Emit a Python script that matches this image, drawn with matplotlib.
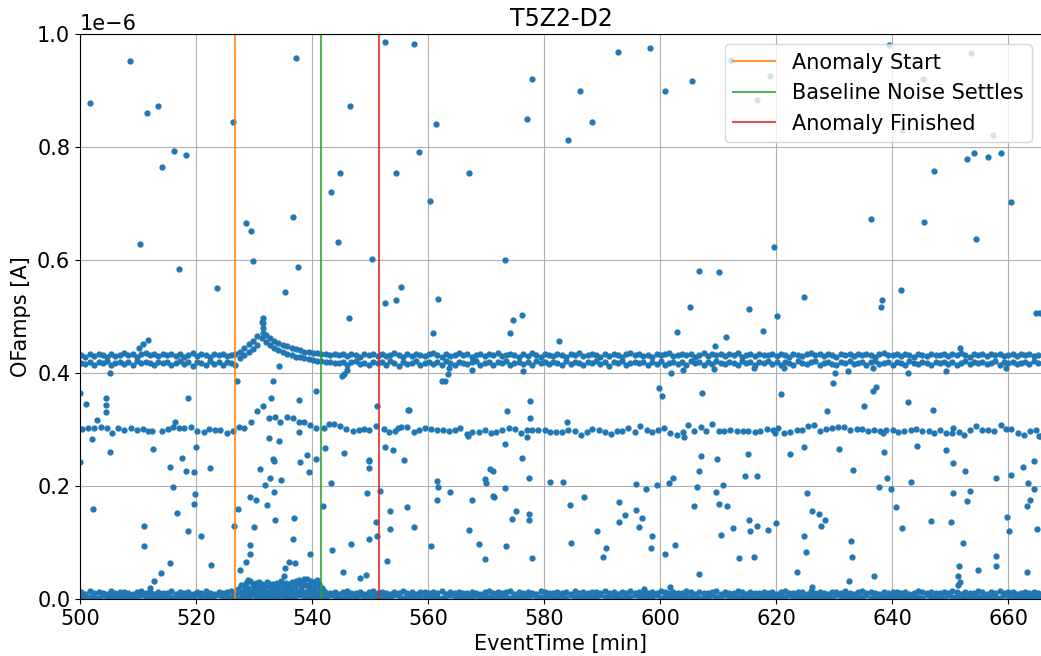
import numpy as np
import matplotlib
matplotlib.use("Agg")
import matplotlib.pyplot as plt

plt.rcParams['font.size'] = 15

# event times [min] for the two dense pulse bands (~0.42 uA and ~0 uA)
band_t = [500.2, 500.9, 501.7, 502.4, 503.2, 503.9, 504.6, 505.4, 506.1, 506.9,
          507.6, 508.3, 509.1, 509.8, 510.6, 511.3, 512.0, 512.8, 513.5, 514.3,
          515.0, 515.7, 516.5, 517.2, 518.0, 518.7, 519.4, 520.2, 520.9, 521.7,
          522.4, 523.1, 523.9, 524.6, 525.4, 526.1, 526.8, 527.6, 528.3, 529.1,
          529.8, 530.5, 531.3, 532.0, 532.8, 533.5, 534.2, 535.0, 535.7, 536.5,
          537.2, 537.9, 538.7, 539.4, 540.2, 540.9, 541.6, 542.4, 543.1, 543.9,
          544.6, 545.3, 546.1, 546.8, 547.6, 548.3, 549.0, 549.8, 550.5, 551.3,
          552.0, 552.7, 553.5, 554.2, 555.0, 555.7, 556.4, 557.2, 557.9, 558.7,
          559.4, 560.1, 560.9, 561.6, 562.4, 563.1, 563.8, 564.6, 565.3, 566.1,
          566.8, 567.5, 568.3, 569.0, 569.8, 570.5, 571.2, 572.0, 572.7, 573.5,
          574.2, 574.9, 575.7, 576.4, 577.2, 577.9, 578.6, 579.4, 580.1, 580.9,
          581.6, 582.3, 583.1, 583.8, 584.6, 585.3, 586.0, 586.8, 587.5, 588.3,
          589.0, 589.7, 590.5, 591.2, 592.0, 592.7, 593.4, 594.2, 594.9, 595.7,
          596.4, 597.1, 597.9, 598.6, 599.4, 600.1, 600.8, 601.6, 602.3, 603.1,
          603.8, 604.5, 605.3, 606.0, 606.8, 607.5, 608.2, 609.0, 609.7, 610.5,
          611.2, 611.9, 612.7, 613.4, 614.2, 614.9, 615.6, 616.4, 617.1, 617.9,
          618.6, 619.3, 620.1, 620.8, 621.6, 622.3, 623.0, 623.8, 624.5, 625.3,
          626.0, 626.7, 627.5, 628.2, 629.0, 629.7, 630.4, 631.2, 631.9, 632.7,
          633.4, 634.1, 634.9, 635.6, 636.4, 637.1, 637.8, 638.6, 639.3, 640.1,
          640.8, 641.5, 642.3, 643.0, 643.8, 644.5, 645.2, 646.0, 646.7, 647.5,
          648.2, 648.9, 649.7, 650.4, 651.2, 651.9, 652.6, 653.4, 654.1, 654.9,
          655.6, 656.3, 657.1, 657.8, 658.6, 659.3, 660.0, 660.8, 661.5, 662.3,
          663.0, 663.7, 664.5, 665.2]

# amplitudes in nA, upper / lower dot of each column of the 0.42 band
top_hi = [432, 429, 434, 430, 433, 431, 428, 434, 430, 432,
          435, 431, 433, 429, 434, 436, 432, 433, 430, 434,
          431, 434, 430, 433, 429, 432, 435, 430, 433, 431,
          429, 434, 431, 433, 430, 432, 434, 438, 444, 451,
          456, 466, 490, 468, 462, 457, 453, 450, 447, 444,
          442, 440, 438, 437, 436, 435, 434, 433, 432, 434,
          431, 433, 430, 434, 432, 429, 433, 431, 434, 430,
          433, 430, 432, 435, 431, 429, 433, 430, 434, 432,
          430, 433, 436, 431, 429, 434, 430, 432, 435, 431,
          433, 429, 432, 434, 430, 433, 431, 436, 430, 432,
          434, 431, 429, 433, 430, 435, 432, 429, 433, 431,
          430, 434, 432, 429, 433, 431, 435, 430, 432, 434,
          431, 429, 433, 430, 434, 432, 429, 433, 436, 431,
          433, 430, 432, 429, 434, 431, 433, 435, 430, 432,
          434, 431, 433, 429, 432, 436, 430, 433, 431, 434,
          430, 433, 431, 435, 429, 432, 434, 430, 433, 431,
          432, 434, 430, 433, 431, 429, 434, 432, 430, 433,
          436, 431, 433, 430, 434, 432, 429, 433, 431, 434,
          430, 433, 431, 434, 432, 429, 433, 435, 431, 432,
          434, 430, 433, 431, 429, 434, 432, 430, 433, 431,
          432, 434, 430, 433, 431, 435, 432, 429, 434, 431,
          433, 430, 434, 431, 433, 430, 432, 434, 430, 433,
          431, 434, 430, 432]
top_lo = [418, 416, 420, 414, 419, 417, 421, 415, 418, 420,
          416, 419, 414, 421, 417, 420, 418, 415, 419, 417,
          420, 414, 418, 421, 416, 419, 413, 420, 417, 415,
          421, 416, 419, 414, 420, 417, 415, 426, 431, 437,
          442, 450, 462, 455, 449, 445, 441, 437, 434, 431,
          429, 428, 426, 424, 423, 422, 421, 419, 420, 418,
          417, 420, 415, 419, 421, 416, 418, 414, 420, 417,
          419, 415, 421, 417, 413, 420, 416, 418, 421, 415,
          418, 420, 416, 419, 414, 421, 417, 415, 420, 418,
          416, 419, 421, 415, 418, 420, 414, 419, 417, 421,
          415, 418, 420, 416, 419, 414, 421, 417, 420, 416,
          419, 417, 414, 421, 416, 420, 418, 415, 419, 417,
          421, 416, 419, 413, 420, 417, 421, 415, 418, 420,
          417, 420, 415, 419, 416, 421, 414, 418, 420, 416,
          419, 415, 421, 417, 420, 414, 419, 416, 421, 418,
          416, 420, 418, 414, 421, 417, 419, 415, 420, 417,
          421, 416, 419, 414, 420, 417, 415, 421, 418, 416,
          419, 421, 415, 418, 420, 416, 414, 419, 417, 421,
          416, 418, 420, 414, 419, 421, 416, 418, 420, 415,
          419, 417, 414, 421, 418, 416, 420, 417, 415, 419,
          417, 420, 416, 419, 414, 418, 421, 416, 419, 417,
          420, 416, 418, 421, 415, 419, 417, 420, 416, 418,
          419, 416, 421, 417]

# amplitudes in nA of the baseline band near zero
bot_hi = [12, 9, 14, 10, 13, 11, 8, 14, 10, 12,
          13, 11, 9, 12, 14, 10, 13, 9, 12, 11,
          10, 14, 9, 12, 11, 13, 8, 12, 10, 14,
          11, 9, 13, 10, 12, 14, 9, 13, 11, 12,
          14, 10, 12, 13, 9, 11, 14, 10, 12, 13,
          11, 13, 10, 14, 12, 9, 13, 11, 10, 12,
          9, 12, 14, 10, 11, 13, 9, 12, 14, 10,
          13, 11, 9, 12, 10, 14, 11, 13, 9, 12,
          12, 10, 13, 11, 14, 9, 12, 10, 13, 11,
          10, 13, 11, 9, 12, 14, 10, 12, 11, 13,
          14, 9, 12, 10, 13, 11, 9, 14, 12, 10,
          11, 13, 10, 12, 9, 14, 11, 13, 10, 12,
          13, 10, 14, 11, 12, 9, 13, 11, 14, 10,
          12, 9, 11, 13, 10, 14, 12, 10, 13, 11,
          10, 14, 12, 9, 13, 11, 10, 12, 14, 9,
          13, 11, 10, 14, 12, 9, 13, 11, 10, 12,
          11, 13, 9, 12, 14, 10, 11, 13, 12, 9,
          14, 10, 12, 11, 9, 13, 12, 10, 14, 11,
          9, 12, 14, 10, 13, 11, 9, 12, 10, 13,
          12, 10, 13, 9, 11, 14, 12, 10, 13, 11,
          10, 13, 11, 14, 12, 9, 13, 11, 10, 14,
          13, 9, 12, 10, 14, 11, 12, 13, 9, 11,
          12, 10, 13, 11]
bot_lo = [4, 6, 3, 5, 2, 7, 4, 5, 3, 6,
          5, 3, 6, 4, 7, 2, 5, 4, 6, 3,
          6, 4, 2, 5, 3, 6, 4, 7, 3, 5,
          3, 5, 7, 4, 6, 3, 5, 2, 6, 4,
          7, 3, 5, 6, 4, 2, 6, 5, 3, 4,
          5, 7, 4, 3, 6, 5, 2, 4, 7, 3,
          4, 2, 6, 5, 3, 7, 4, 6, 5, 3,
          6, 4, 3, 7, 5, 2, 6, 4, 3, 5,
          3, 6, 5, 4, 2, 6, 7, 3, 5, 4,
          5, 4, 7, 3, 6, 4, 2, 5, 6, 3,
          2, 5, 4, 6, 3, 7, 5, 4, 3, 6,
          6, 3, 5, 2, 7, 4, 3, 6, 5, 4,
          4, 7, 3, 5, 4, 6, 2, 5, 3, 7,
          5, 4, 6, 3, 7, 2, 5, 4, 6, 3,
          3, 6, 4, 5, 2, 6, 4, 7, 3, 5,
          7, 3, 5, 4, 6, 3, 5, 2, 6, 4,
          4, 5, 2, 6, 3, 7, 4, 5, 3, 6,
          5, 3, 6, 4, 5, 2, 7, 3, 6, 4,
          6, 4, 3, 7, 2, 5, 6, 4, 3, 5,
          3, 6, 5, 4, 6, 3, 2, 7, 4, 5,
          5, 2, 7, 3, 5, 6, 4, 3, 6, 4,
          4, 6, 3, 5, 2, 7, 5, 4, 6, 3,
          6, 3, 5, 4]

# the ~0.30 uA band: (time [min], amplitude [nA])
mid_band = [(500.3, 301), (501.4, 303), (502.4, 303), (503.0, 316), (503.6, 304),
            (504.6, 303), (505.6, 293), (506.6, 302), (507.6, 300), (508.8, 303),
            (509.8, 299), (510.8, 301), (511.8, 297), (512.4, 297), (514.1, 297),
            (515.1, 301), (516.0, 304), (516.4, 314), (517.0, 302), (518.0, 302),
            (519.1, 304), (520.1, 298), (521.3, 296), (522.2, 301), (523.2, 300),
            (524.1, 300), (525.3, 293), (526.3, 298), (527.4, 304), (528.3, 302),
            (529.4, 313), (532.5, 320), (533.6, 323), (534.5, 314), (535.7, 323),
            (536.7, 320), (537.7, 314), (538.7, 314), (539.7, 308), (540.7, 302),
            (542.0, 302), (542.9, 310), (543.8, 310), (544.9, 307), (545.9, 301),
            (547.1, 297), (548.1, 300), (549.0, 301), (549.9, 300), (551.1, 306),
            (552.4, 301), (553.3, 295), (554.3, 298), (554.9, 302), (555.4, 305),
            (556.3, 304), (557.5, 296), (558.5, 299), (559.5, 302), (560.5, 301),
            (561.5, 299), (562.6, 299), (563.7, 297), (564.7, 299), (565.6, 303),
            (566.7, 292), (566.9, 289), (567.6, 295), (568.8, 295), (569.8, 300),
            (570.8, 293), (571.8, 295), (572.8, 299), (574.0, 303), (575.0, 301),
            (576.0, 293), (577.0, 287), (577.0, 299), (578.0, 299), (579.0, 300),
            (580.2, 299), (581.1, 295), (582.1, 295), (583.1, 295), (583.9, 313),
            (584.1, 299), (585.3, 297), (586.3, 291), (587.4, 295), (588.3, 301),
            (589.4, 300), (590.5, 295), (591.5, 292), (592.5, 297), (593.5, 297),
            (594.5, 303), (595.7, 295), (596.6, 307), (597.7, 299), (598.7, 295),
            (599.7, 299), (600.7, 303), (601.8, 293), (602.9, 291), (603.9, 295),
            (604.1, 287), (604.9, 308), (605.9, 297), (607.1, 305), (608.0, 297),
            (609.0, 309), (610.1, 297), (611.0, 297), (612.1, 299), (613.2, 297),
            (614.3, 297), (615.2, 297), (616.3, 295), (617.2, 297), (618.4, 301),
            (619.4, 299), (619.8, 294), (620.4, 303), (621.4, 293), (622.4, 295),
            (623.6, 299), (624.5, 299), (625.6, 306), (626.6, 308), (627.6, 297),
            (628.7, 301), (629.7, 303), (630.7, 305), (631.8, 305), (632.8, 299),
            (633.9, 301), (634.9, 301), (635.9, 297), (636.9, 299), (637.9, 297),
            (638.4, 294), (638.9, 299), (640.2, 299), (641.1, 295), (642.1, 297),
            (643.2, 299), (644.1, 301), (645.2, 297), (646.3, 297), (647.3, 293),
            (648.3, 299), (649.3, 293), (650.6, 303), (650.4, 293), (651.5, 295),
            (652.4, 291), (653.5, 299), (654.4, 307), (655.6, 299), (656.6, 299),
            (657.6, 297), (658.8, 308), (659.6, 301), (660.6, 301), (661.8, 293),
            (662.8, 291), (663.8, 297), (664.8, 299), (665.6, 289)]

# pile-up above the baseline during the anomaly: (time [min], amplitude [nA])
burst = [(527.3, 18), (527.8, 25), (528.2, 14), (528.6, 28), (529.0, 20),
         (529.3, 31), (529.7, 16), (530.0, 24), (530.4, 29), (530.7, 12),
         (531.0, 21), (531.4, 27), (531.8, 17), (532.1, 23), (532.5, 13),
         (532.9, 19), (533.2, 26), (533.6, 15), (534.0, 20), (534.4, 11),
         (534.8, 24), (535.1, 17), (535.5, 28), (535.9, 21), (536.2, 14),
         (536.6, 30), (537.0, 22), (537.3, 26), (537.7, 33), (538.1, 18),
         (538.4, 29), (538.8, 24), (539.2, 35), (539.5, 20), (539.9, 31),
         (540.3, 16), (540.6, 27), (541.0, 22), (541.4, 14), (541.8, 19),
         (528.0, 9), (529.5, 8), (531.2, 10), (533.0, 9), (535.3, 8),
         (536.8, 10), (538.5, 9), (540.0, 10), (532.3, 30), (537.5, 12),
         (539.0, 13), (527.5, 12), (528.4, 21), (528.9, 33), (529.1, 11),
         (529.9, 27), (530.2, 19), (530.9, 30), (531.6, 24), (532.0, 11),
         (532.7, 27), (533.4, 21), (533.9, 29), (534.2, 17), (534.6, 31),
         (535.7, 13), (536.0, 25), (536.4, 19), (537.2, 32), (537.9, 27),
         (538.2, 13), (538.6, 36), (539.4, 25), (539.7, 15), (540.1, 30),
         (540.5, 21), (540.9, 34), (541.2, 26), (541.6, 12), (542.0, 15),
         (542.3, 9)]

# remaining scattered events: (time [min], amplitude [nA])
outliers = [(501.8, 878), (508.6, 952), (511.6, 860), (513.4, 873), (514.2, 764),
            (516.2, 793), (518.2, 786), (510.4, 629), (517.0, 584), (523.6, 551),
            (526.3, 845), (528.6, 666), (529.5, 652), (529.9, 599), (531.6, 497),
            (531.6, 489), (531.6, 480), (531.6, 471), (535.3, 543), (536.7, 676),
            (537.3, 958), (537.5, 588), (543.3, 721), (544.5, 631), (544.9, 754),
            (546.5, 873), (546.3, 498), (550.4, 602), (552.6, 985), (552.6, 524),
            (554.5, 754), (554.5, 529), (555.3, 553), (557.5, 983), (558.4, 792),
            (560.4, 704), (561.4, 841), (561.8, 531), (567.0, 754), (573.2, 600),
            (574.7, 494), (578.0, 921), (577.0, 850), (584.1, 813), (586.2, 899),
            (588.3, 844), (592.7, 969), (598.3, 975), (600.9, 899), (605.5, 917),
            (612.3, 954), (619.0, 926), (616.8, 883), (639.5, 980), (645.3, 921),
            (641.7, 830), (653.7, 967), (657.4, 821), (652.9, 778), (654.2, 790),
            (656.5, 782), (658.8, 790), (647.3, 758), (660.6, 703), (636.3, 672),
            (645.5, 668), (654.5, 637), (619.6, 623), (606.8, 580), (610.2, 578),
            (605.2, 516), (615.4, 514), (620.2, 500), (624.8, 535), (638.3, 529),
            (638.1, 516), (641.5, 547), (576.2, 502), (664.8, 506), (665.5, 506),
            (510.2, 445), (510.9, 452), (511.7, 458), (505.2, 400), (527.0, 386),
            (534.3, 412), (545.1, 395), (545.5, 399), (546.0, 405), (562.4, 386),
            (563.0, 386), (563.4, 398), (563.7, 408), (500.0, 364), (501.0, 346),
            (504.4, 355), (504.4, 343), (504.4, 331), (518.6, 355), (560.8, 471),
            (574.1, 470), (582.5, 457), (603.0, 473), (609.4, 448), (611.4, 463),
            (617.8, 474), (651.7, 445), (576.3, 404), (567.6, 406), (601.9, 400),
            (604.0, 406), (609.3, 407), (616.2, 408), (621.4, 409), (630.2, 400),
            (632.4, 404), (636.8, 409), (642.7, 400), (649.3, 404), (659.7, 409),
            (599.9, 373), (600.3, 359), (607.2, 365), (556.8, 334), (577.6, 350),
            (577.6, 320), (573.6, 332), (629.8, 383), (637.3, 375), (636.8, 369),
            (620.8, 363), (635.2, 342), (642.7, 349), (628.8, 332), (647.1, 335),
            (530.6, 333), (531.6, 342), (532.9, 355), (533.3, 385), (537.7, 353),
            (540.7, 369), (551.2, 341), (556.6, 335), (502.1, 283), (505.2, 261),
            (512.6, 265), (520.0, 269), (517.6, 250), (532.5, 285), (534.3, 280),
            (537.7, 296), (542.3, 267), (545.5, 259), (552.6, 269), (554.0, 264),
            (533.3, 247), (539.1, 255), (540.7, 247), (549.9, 246), (573.2, 275),
            (576.2, 250), (607.1, 253), (609.8, 247), (615.2, 257), (622.4, 257),
            (624.9, 269), (630.9, 265), (638.7, 261), (644.3, 271), (649.3, 263),
            (665.3, 288), (500.0, 242), (515.5, 234), (518.2, 226), (519.6, 224),
            (522.4, 232), (531.1, 230), (533.5, 245), (537.9, 242), (539.5, 224),
            (549.8, 232), (549.8, 245), (555.8, 246), (502.2, 160), (511.0, 130),
            (511.0, 93), (516.0, 199), (519.8, 185), (519.6, 169), (516.8, 153),
            (518.7, 120), (520.8, 111), (522.6, 60), (515.5, 63), (514.0, 46),
            (512.8, 32), (512.0, 20), (526.6, 130), (527.2, 160), (527.6, 52),
            (528.7, 66), (529.3, 80), (529.3, 95), (529.3, 181), (530.3, 176),
            (530.0, 128), (531.9, 202), (532.8, 215), (533.5, 189), (532.2, 166),
            (533.7, 139), (534.7, 211), (535.3, 55), (535.1, 41), (536.1, 66),
            (537.1, 63), (536.9, 144), (536.7, 107), (539.7, 80), (541.9, 165),
            (543.3, 205), (543.5, 87), (545.3, 48), (546.7, 97), (548.3, 38),
            (549.3, 42), (549.5, 187), (549.8, 106), (551.0, 136), (551.2, 112),
            (551.7, 191), (553.4, 156), (553.4, 124), (553.0, 68), (556.4, 162),
            (557.6, 128), (560.6, 93), (561.6, 208), (561.8, 199), (561.6, 175),
            (563.8, 189), (567.0, 122), (567.6, 176), (568.8, 97), (569.8, 71),
            (569.8, 212), (570.0, 206), (570.7, 230), (571.2, 226), (571.2, 183),
            (571.4, 181), (573.2, 197), (573.4, 93), (574.4, 142), (575.2, 156),
            (577.4, 215), (577.4, 150), (577.4, 140), (578.0, 73), (581.0, 207),
            (583.2, 207), (584.4, 166), (584.7, 99), (586.9, 181), (589.1, 120),
            (590.1, 75), (590.7, 91), (592.9, 172), (592.9, 136), (593.9, 148),
            (595.9, 204), (595.9, 158), (596.3, 127), (596.9, 144), (597.5, 195),
            (598.7, 112), (598.5, 91), (599.5, 202), (597.3, 17), (600.9, 79),
            (601.5, 205), (602.3, 214), (602.6, 95), (601.7, 22), (605.9, 165),
            (606.3, 199), (606.8, 226), (606.8, 44), (609.7, 189), (610.2, 169),
            (610.8, 201), (610.5, 113), (611.6, 164), (614.7, 218), (616.8, 218),
            (612.5, 126), (613.6, 73), (615.4, 140), (615.6, 120), (616.7, 129),
            (616.2, 74), (618.6, 122), (620.0, 134), (623.6, 48), (624.9, 112),
            (625.2, 83), (625.4, 187), (626.2, 156), (626.2, 22), (627.4, 150),
            (627.8, 130), (628.4, 140), (633.3, 228), (632.9, 103), (633.1, 74),
            (632.5, 32), (636.9, 40), (637.7, 199), (639.1, 214), (639.9, 195),
            (640.7, 163), (641.7, 126), (643.3, 207), (646.7, 138), (650.6, 240),
            (650.5, 187), (650.1, 136), (652.5, 226), (653.5, 191), (653.0, 173),
            (652.2, 99), (651.5, 58), (651.4, 40), (651.7, 30), (651.3, 25),
            (654.9, 52), (657.9, 215), (657.9, 76), (657.9, 58), (659.8, 145),
            (660.1, 120), (660.6, 220), (662.6, 234), (663.4, 205), (664.4, 244),
            (664.4, 195), (663.8, 175), (663.2, 165), (665.0, 124), (663.3, 48)]

# markers for the anomaly
line_labels = ['Anomaly Start', 'Baseline Noise Settles', 'Anomaly Finished']
line_times = [526.7, 541.6, 551.6]
line_colors = ['tab:orange', 'tab:green', 'tab:red']

# collect all events
mid_t, mid_v = np.array(mid_band).T
burst_t, burst_v = np.array(burst).T
out_t, out_v = np.array(outliers).T
t = np.concatenate([band_t, band_t, band_t, band_t, mid_t, burst_t, out_t])
amp = np.concatenate([top_hi, top_lo, bot_hi, bot_lo, mid_v, burst_v, out_v]) * 1e-9

fig = plt.figure(figsize=(10.41, 6.56), dpi=100)
ax = fig.add_axes([80 / 1041, 57 / 656, 962 / 1041, 565 / 656])
ax.plot(t, amp, '.', color='tab:blue', ms=7)
for lab, x, c in zip(line_labels, line_times, line_colors):
    ax.axvline(x, color=c, alpha=0.8, label=lab)

ax.set_xlim(500, 665.86)
ax.set_ylim(0, 1e-6)
ax.set_xticks([500, 520, 540, 560, 580, 600, 620, 640, 660])
ax.grid(True)
ax.set_xlabel('EventTime [min]')
ax.set_ylabel('OFamps [A]')
ax.set_title('T5Z2-D2', fontsize=17)
ax.legend(loc='upper right')

fig.savefig('out.png', dpi=100)
